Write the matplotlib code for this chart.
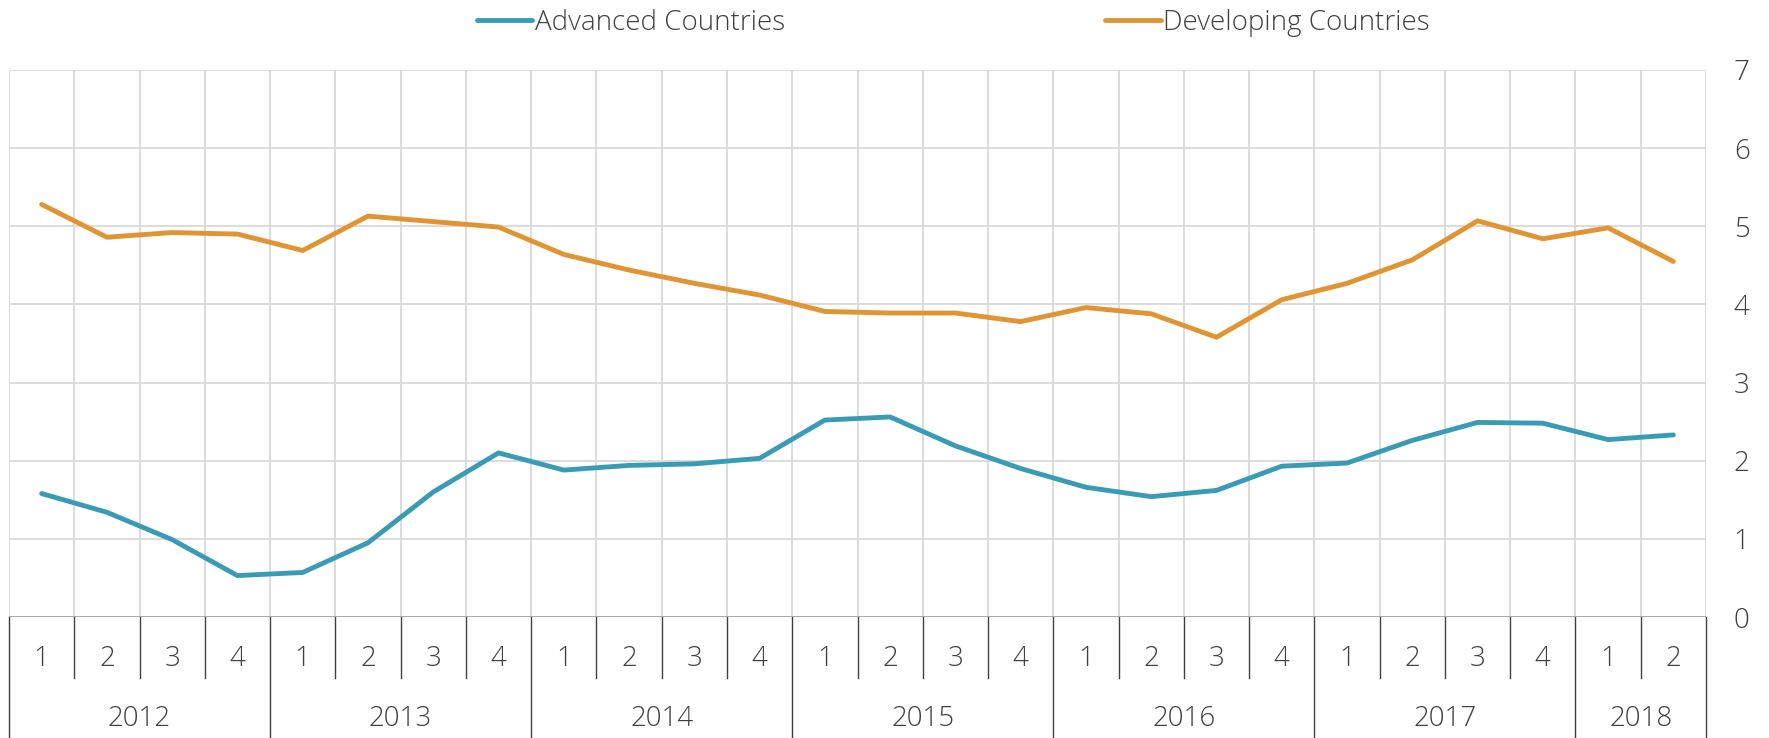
import matplotlib.pyplot as plt
import matplotlib.transforms as mtransforms
import numpy as np

years = ['2012', '2013', '2014', '2015', '2016', '2017', '2018']
quarters_per_year = [4, 4, 4, 4, 4, 4, 2]

advanced = [1.58, 1.34, 0.99, 0.53, 0.57, 0.95, 1.60, 2.10,
            1.88, 1.94, 1.96, 2.03, 2.52, 2.56, 2.19, 1.90,
            1.66, 1.54, 1.62, 1.93, 1.97, 2.26, 2.49, 2.48,
            2.27, 2.33]
developing = [5.28, 4.86, 4.92, 4.90, 4.69, 5.13, 5.06, 4.99,
              4.64, 4.44, 4.27, 4.12, 3.91, 3.89, 3.89, 3.78,
              3.96, 3.88, 3.58, 4.06, 4.27, 4.57, 5.07, 4.84,
              4.98, 4.55]

quarter_labels = []
for n in quarters_per_year:
    quarter_labels += [str(q + 1) for q in range(n)]

plt.rcParams['font.family'] = ['Open Sans', 'DejaVu Sans']
text_color = '#404040'
fs = 20

fig = plt.figure(figsize=(17.69, 7.38), dpi=100)
ax = fig.add_axes([9 / 1769, 1 - 617 / 738, (1706 - 9) / 1769, (617 - 70) / 738])

x = np.arange(len(advanced))
ax.plot(x, advanced, color='#3A9BB6', lw=3.5, solid_capstyle='round',
        label='Advanced Countries')
ax.plot(x, developing, color='#E09432', lw=3.5, solid_capstyle='round',
        label='Developing Countries')

n = len(advanced)
ax.set_xlim(-0.5, n - 0.5)
ax.set_ylim(0, 7)

# grid
for yv in range(1, 8):
    ax.axhline(yv, color='#D9D9D9', lw=1.3, zorder=0)
for b in np.arange(-0.5, n, 1.0):
    ax.axvline(b, color='#D9D9D9', lw=1.3, zorder=0)

for s in ax.spines.values():
    s.set_visible(False)
ax.axhline(0, color='#A0A0A0', lw=2, zorder=3)

ax.yaxis.tick_right()
ax.set_yticks(range(0, 8))
ax.tick_params(axis='y', length=0, pad=20, labelsize=fs, labelcolor=text_color)
for lab in ax.get_yticklabels():
    lab.set_fontweight('light')
ax.set_xticks([])

# multi-level category axis
trans = mtransforms.blended_transform_factory(ax.transData, ax.transAxes)
q_depth = -(678 - 617) / 547
y_depth = -(738 - 617) / 547
year_bounds = [-0.5]
for k in quarters_per_year:
    year_bounds.append(year_bounds[-1] + k)
for b in np.arange(-0.5, n, 1.0):
    bottom = y_depth if b in year_bounds else q_depth
    ax.plot([b, b], [0, bottom], transform=trans, color='#404040', lw=1,
            clip_on=False)
for i, ql in enumerate(quarter_labels):
    ax.text(i, -(659 - 617) / 547, ql, transform=trans, ha='center',
            va='center', fontsize=fs, color=text_color, fontweight='light')
for i, yr in enumerate(years):
    mid = (year_bounds[i] + year_bounds[i + 1]) / 2
    ax.text(mid, -(719 - 617) / 547, yr, transform=trans, ha='center',
            va='center', fontsize=fs, color=text_color, fontweight='light')

leg = fig.legend(loc='center', bbox_to_anchor=(0.539, 1 - 23 / 738), ncol=2,
                 frameon=False, fontsize=fs, handlelength=2.0,
                 handletextpad=0.1, columnspacing=11.5)
for t in leg.get_texts():
    t.set_color(text_color)
    t.set_fontweight('light')

fig.savefig('out.png', dpi=100)
